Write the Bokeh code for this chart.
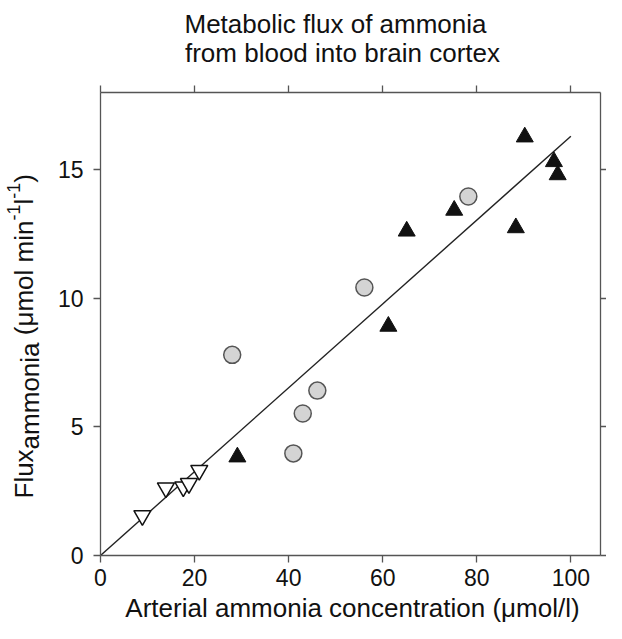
import math
from bokeh.plotting import figure
from bokeh.layouts import row
from bokeh.models import Range1d, LinearAxis, FixedTicker, Label, CustomJSTickFormatter, ColumnDataSource
from bokeh.core.properties import value
from bokeh.embed import file_html
from bokeh.resources import INLINE

# ---------------- data ----------------
x_ticks = [0, 20, 40, 60, 80, 100]
y_ticks = [0, 5, 10, 15]

filled_tri_x = [29.1, 61.2, 65.1, 75.2, 88.3, 90.2, 96.4, 97.2]
filled_tri_y = [3.83, 8.91, 12.61, 13.42, 12.74, 16.27, 15.31, 14.80]

gray_circle_x = [28.0, 41.0, 43.0, 46.1, 56.1, 78.2]
gray_circle_y = [7.80, 3.97, 5.52, 6.41, 10.42, 13.96]

open_tri_x = [8.9, 13.9, 17.6, 18.8, 21.0]
open_tri_y = [1.55, 2.63, 2.67, 2.80, 3.31]

fit_x = [0, 100]
fit_y = [0, 16.3]

title_lines = ["Metabolic flux of ammonia", "from blood into brain cortex"]
x_label = "Arterial ammonia concentration (\u03bcmol/l)"
y_label_parts = [("Flux", "main"), ("ammonia", "sub"), (" (\u03bcmol min", "main"),
                 ("-1", "sup"), ("l", "main"), ("-1", "sup"), (")", "main")]

FONT = "Liberation Sans"
AX = "#555555"
TXT = "#111111"
LEFT_W = 50          # strip holding the y-axis title
FRAME_L, FRAME_T, FRAME_B, FRAME_R = 100, 92, 555, 600
FIG_W, FIG_H = 606, 623

# ---------------- main figure ----------------
p = figure(width=FIG_W - LEFT_W, height=FIG_H, x_range=Range1d(0, 106.3), y_range=Range1d(0, 18),
           output_backend="svg", toolbar_location=None,
           min_border_left=FRAME_L - LEFT_W, min_border_right=FIG_W - FRAME_R,
           min_border_top=FRAME_T, min_border_bottom=FIG_H - FRAME_B)
p.outline_line_color = None
p.xgrid.visible = False
p.ygrid.visible = False
p.background_fill_color = "white"
p.border_fill_color = "white"

bottom_axis = p.below[0]
left_axis = p.left[0]
top_axis = LinearAxis()
right_axis = LinearAxis()
p.add_layout(top_axis, "above")
p.add_layout(right_axis, "right")

for ax in [bottom_axis, top_axis]:
    ax.ticker = FixedTicker(ticks=x_ticks)
for ax in [left_axis, right_axis]:
    ax.ticker = FixedTicker(ticks=y_ticks)

for ax in [bottom_axis, left_axis, top_axis, right_axis]:
    ax.axis_line_color = AX
    ax.axis_line_width = 1.3
    ax.major_tick_line_color = AX
    ax.major_tick_line_width = 1.3
    ax.major_tick_in = 0
    ax.major_tick_out = 7
    ax.minor_tick_line_color = None
    ax.major_label_text_font = FONT
    ax.major_label_text_font_size = "23px"
    ax.major_label_text_color = TXT
bottom_axis.major_label_standoff = 6
left_axis.major_label_standoff = 10
blank = CustomJSTickFormatter(code="return ''")
for ax in [top_axis, right_axis]:
    ax.formatter = blank
    ax.major_label_standoff = 0
    ax.major_label_text_font_size = "1px"
right_axis.major_tick_out = 6

p.line(fit_x, fit_y, line_color="#222222", line_width=1.4)
p.scatter(gray_circle_x, gray_circle_y, marker="circle", size=17,
          fill_color="#d4d4d4", line_color="#555555", line_width=1.5)
p.scatter(filled_tri_x, filled_tri_y, marker="triangle", size=17,
          fill_color="#111111", line_color="#111111", line_width=1)
p.scatter(open_tri_x, open_tri_y, marker="inverted_triangle", size=17,
          fill_color="white", line_color="#111111", line_width=1.5)

BASE_FIX = 9  # side-panel labels draw this much below the requested baseline


def side_label(text, cx, baseline_y, size, place):
    p.add_layout(Label(x=0, y=0, x_units="data", y_units="data",
                       x_offset=cx - FRAME_L, y_offset=FRAME_B - baseline_y + BASE_FIX,
                       text=text, text_font=FONT, text_font_size=f"{size}px",
                       text_align="center", text_baseline="alphabetic",
                       text_color=TXT), place)


side_label(title_lines[0], 335, 32, 26, "above")
side_label(title_lines[1], 342, 61, 26, "above")
side_label(x_label, 352, 616, 26, "below")

# ---------------- y-axis title strip ----------------
ARIAL = {'F': 0.611, 'l': 0.222, 'u': 0.556, 'x': 0.5, 'a': 0.556, 'm': 0.833,
         'o': 0.556, 'n': 0.556, 'i': 0.222, ' ': 0.278, '(': 0.333, ')': 0.333,
         '\u03bc': 0.576, '-': 0.333, '1': 0.556}
# (font size, wanted baseline x in the picture)
style = {"main": (26, 36), "sub": (26, 42), "sup": (18, 21)}
ROT_SHIFT = 0.47  # rotated text lands this many font sizes right of its anchor
xs, ys, ts, ss = [], [], [], []
pos = 498.0
for txt, kind in y_label_parts:
    size, base_x = style[kind]
    lead = len(txt) - len(txt.lstrip(" "))
    pos -= lead * ARIAL[' '] * size
    txt = txt.lstrip(" ")
    xs.append(base_x - ROT_SHIFT * size)
    ys.append(FRAME_B - pos)
    ts.append(txt)
    ss.append(f"{size}px")
    pos -= sum(ARIAL.get(c, 0.556) for c in txt) * size

# the strip's frame is aligned with the main frame by the row layout
yfig = figure(width=LEFT_W, height=FIG_H, x_range=Range1d(0, LEFT_W),
              y_range=Range1d(0, FRAME_B - FRAME_T),
              x_axis_type=None, y_axis_type=None, output_backend="svg",
              toolbar_location=None, min_border=0)
yfig.outline_line_color = None
yfig.background_fill_color = "white"
yfig.border_fill_color = "white"
yfig.text(x="x", y="y", text="text", text_font_size="size",
          source=ColumnDataSource(dict(x=xs, y=ys, text=ts, size=ss)),
          angle=math.pi / 2, text_font=value(FONT), text_align="left",
          text_baseline="alphabetic", text_color=TXT)

layout = row(yfig, p)
open("out.html", "w").write(file_html(layout, INLINE))
